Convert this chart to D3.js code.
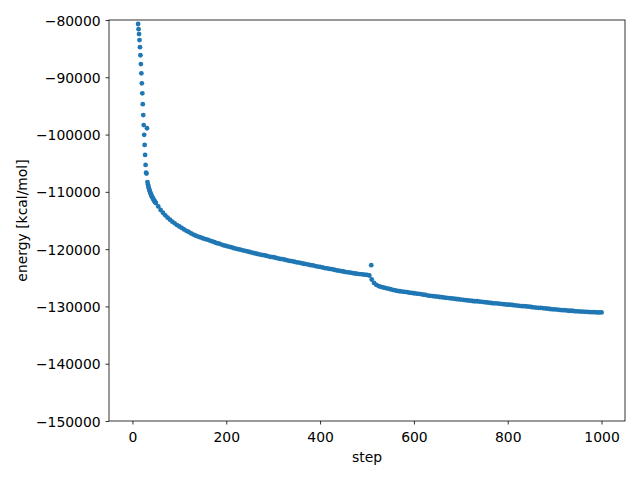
<!DOCTYPE html>
<html>
<head>
<meta charset="utf-8">
<script src="https://cdn.jsdelivr.net/npm/d3@7"></script>
<style>
html,body{margin:0;padding:0;background:#fff;}
text{font-family:"DejaVu Sans",sans-serif;}
</style>
</head>
<body>
<svg id="chart" width="640" height="480"></svg>
<script>
// ---- data ----
const steps = [
12,13,14,15,16,17,18,19,20,21,22,23,24,25,26,27,28,29,30,31,32,33,34,35,36,37,38,39,40,41,42,43,44,45,46,47,48,49,50,
55,60,65,70,75,80,85,90,95,100,105,110,115,120,125,130,135,140,145,150,155,160,165,170,175,180,185,190,195,200,
205,210,215,220,225,230,235,240,245,250,255,260,265,270,275,280,285,290,295,300,305,310,315,320,325,330,335,340,
345,350,355,360,365,370,375,380,385,390,395,400,405,410,415,420,425,430,435,440,445,450,455,460,465,470,475,480,
485,490,495,500,505,
509,
510,515,520,525,530,535,540,545,550,555,560,565,570,575,580,585,590,595,600,605,610,615,620,625,630,635,640,645,
650,655,660,665,670,675,680,685,690,695,700,705,710,715,720,725,730,735,740,745,750,755,760,765,770,775,780,785,
790,795,800,805,810,815,820,825,830,835,840,845,850,855,860,865,870,875,880,885,890,895,900,905,910,915,920,925,
930,935,940,945,950,955,960,965,970,975,980,985,990,995,1000
];
const energy = [
-80700,-81600,-82450,-83500,-84750,-86150,-87700,-89300,-91050,-92800,-94700,-96600,-98350,-100050,-101800,
-103550,-105300,-106650,-106800,-98900,-108300,-108700,-109050,-109350,-109650,-109900,-110150,-110350,-110550,
-110750,-110900,-111050,-111200,-111350,-111500,-111600,-111750,-111850,-111950,
-112550,-113150,-113650,-114100,-114500,-114850,-115200,-115500,-115800,-116050,-116300,-116550,-116800,-117000,
-117250,-117450,-117650,-117800,-117950,-118100,-118250,-118350,-118500,-118650,-118800,-118950,-119050,-119200,
-119350,-119450,-119550,-119650,-119800,-119900,-120000,-120100,-120200,-120300,-120400,-120500,-120600,-120700,
-120800,-120900,-121000,-121050,-121150,-121250,-121350,-121400,-121500,-121600,-121700,-121750,-121850,-121950,
-122050,-122100,-122200,-122300,-122350,-122450,-122550,-122600,-122700,-122800,-122850,-122950,-123050,-123100,
-123200,-123300,-123350,-123450,-123500,-123600,-123700,-123750,-123850,-123900,-124000,-124050,-124100,-124200,
-124250,-124300,-124350,-124400,-124450,-124500,-124600,
-122800,
-125300,-125900,-126250,-126450,-126600,-126700,-126800,-126900,-127000,-127100,-127200,-127300,-127350,-127400,
-127450,-127500,-127600,-127650,-127700,-127750,-127800,-127850,-127950,-128000,-128100,-128150,-128200,-128250,
-128300,-128350,-128400,-128450,-128500,-128550,-128600,-128650,-128700,-128750,-128800,-128850,-128900,-128950,
-129000,-129050,-129100,-129100,-129150,-129200,-129250,-129300,-129350,-129400,-129450,-129450,-129500,-129550,
-129600,-129650,-129700,-129700,-129750,-129800,-129850,-129900,-129950,-129950,-130000,-130050,-130100,-130150,
-130200,-130250,-130250,-130300,-130350,-130400,-130450,-130500,-130500,-130550,-130600,-130650,-130650,-130700,
-130750,-130750,-130800,-130850,-130850,-130900,-130900,-130950,-130950,-131000,-131000,-131000,-131050,-131050,-131050
];
const xTicks = [0,200,400,600,800,1000];
const yTicks = [-80000,-90000,-100000,-110000,-120000,-130000,-140000,-150000];
const xLabel = "step";
const yLabel = "energy [kcal/mol]";

// ---- layout ----
const W = 640, H = 480;
const L = 109, R = 625, T = 20, B = 421;
const fs = 13.9;
const svg = d3.select("#chart");

const x = d3.scaleLinear().domain([-50, 1050]).range([L, R]);
const y = d3.scaleLinear().domain([-150000, -80000]).range([B, T]);

svg.append("defs").append("clipPath").attr("id","clip")
  .append("rect").attr("x",L).attr("y",T).attr("width",R-L).attr("height",B-T);

// points
svg.append("g").attr("clip-path","url(#clip)")
  .selectAll("circle").data(steps.map((s,i)=>[s,energy[i]])).join("circle")
  .attr("cx", d=>x(d[0])).attr("cy", d=>y(d[1])).attr("r", 2.4)
  .attr("fill", "#1f77b4");

const fmt = d3.format("d");

// x axis
const gx = svg.append("g").attr("transform",`translate(0,${B})`)
  .call(d3.axisBottom(x).tickValues(xTicks).tickFormat(fmt).tickSize(3.5).tickPadding(4.9).tickSizeOuter(0));
gx.select(".domain").remove();
gx.selectAll(".tick line").attr("stroke","#000").attr("stroke-width",0.8);
gx.selectAll(".tick text").attr("font-size",fs).attr("fill","#000")
  .attr("font-family","DejaVu Sans").attr("dy","0.93em");

// y axis
const gy = svg.append("g").attr("transform",`translate(${L},0)`)
  .call(d3.axisLeft(y).tickValues(yTicks).tickFormat(fmt).tickSize(3.5).tickPadding(4.9).tickSizeOuter(0));
gy.select(".domain").remove();
gy.selectAll(".tick line").attr("stroke","#000").attr("stroke-width",0.8);
gy.selectAll(".tick text").attr("font-size",fs).attr("fill","#000")
  .attr("font-family","DejaVu Sans").attr("dy","0.36em");

// spines
svg.append("rect").attr("x",L).attr("y",T).attr("width",R-L).attr("height",B-T)
  .attr("fill","none").attr("stroke","#000").attr("stroke-width",0.8);

// labels
svg.append("text").attr("x",(L+R)/2).attr("y",462).attr("text-anchor","middle")
  .attr("font-size",fs).attr("fill","#000").text(xLabel);
svg.append("text").attr("transform",`translate(26.5,${(T+B)/2}) rotate(-90)`)
  .attr("text-anchor","middle").attr("font-size",fs).attr("fill","#000").text(yLabel);
</script>
</body>
</html>
